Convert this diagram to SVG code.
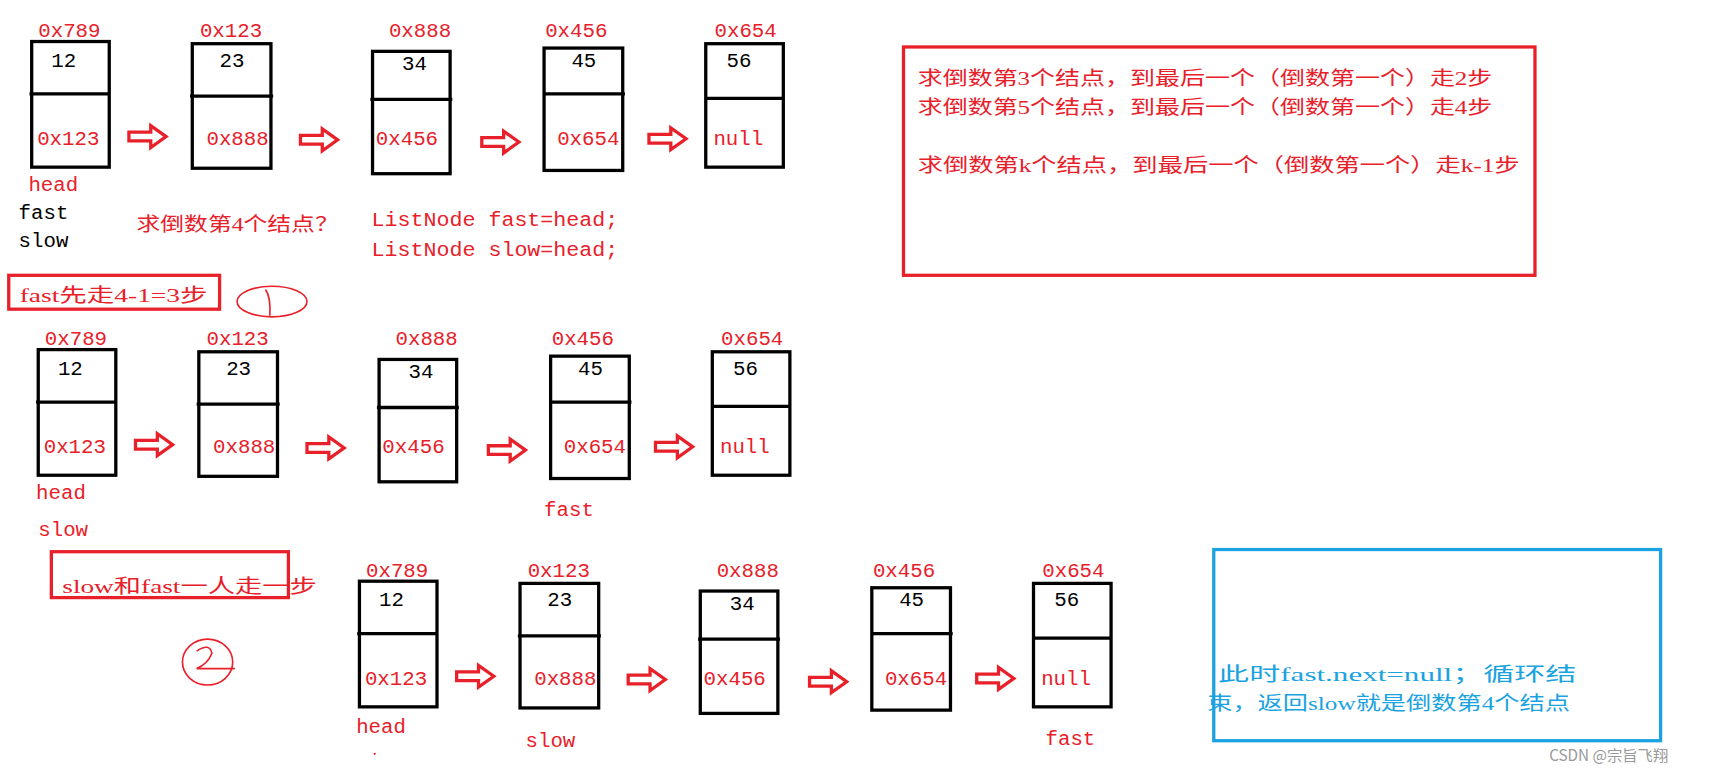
<svg xmlns="http://www.w3.org/2000/svg" width="1713" height="774" viewBox="0 0 1713 774">
<style>
.box{fill:none;stroke:#000;stroke-width:3}
.t{font-family:"Liberation Mono","Noto Sans CJK SC",monospace;font-size:19px}
.r{fill:#e8202a}.k{fill:#000}.b{fill:#1aa3e0}
.cj{font-family:"Liberation Serif","Noto Sans CJK SC",serif;font-size:18px}
.arr{fill:none;stroke:#e8202a;stroke-width:3}
.frame{fill:none;stroke:#e8202a;stroke-width:3}
</style>
<defs>
<path id="ar" class="arr" d="M0,-4 L20,-4 L20,-10 L34,0 L20,10 L20,4 L0,4 Z"/>
<g id="n1"><rect class="box" x="29" y="38" width="71" height="115"/><line class="box" x1="27" y1="86" x2="100" y2="86"/><text class="t r" x="35" y="34">0x789</text><text class="t k" x="47" y="61">12</text><text class="t r" x="34" y="133">0x123</text></g>
<g id="n2"><rect class="box" x="176" y="40" width="72" height="114"/><line class="box" x1="174" y1="88" x2="250" y2="88"/><text class="t r" x="183" y="34">0x123</text><text class="t k" x="201" y="61">23</text><text class="t r" x="189" y="133">0x888</text></g>
<g id="n3"><rect class="box" x="341" y="47" width="71" height="112"/><line class="box" x1="339" y1="91" x2="414" y2="91"/><text class="t r" x="356" y="34">0x888</text><text class="t k" x="368" y="64">34</text><text class="t r" x="344" y="133">0x456</text></g>
<g id="n4"><rect class="box" x="498" y="44" width="72" height="112"/><line class="box" x1="498" y1="86" x2="572" y2="86"/><text class="t r" x="499" y="34">0x456</text><text class="t k" x="523" y="61">45</text><text class="t r" x="510" y="133">0x654</text></g>
<g id="n5"><rect class="box" x="646" y="40" width="71" height="113"/><line class="box" x1="646" y1="90" x2="717" y2="90"/><text class="t r" x="654" y="34">0x654</text><text class="t k" x="665" y="61">56</text><text class="t r" x="653" y="133">null</text></g>
<g id="arrows"><use href="#ar" x="118" y="125"/><use href="#ar" x="275" y="128"/><use href="#ar" x="441" y="130"/><use href="#ar" x="594" y="127"/></g>
</defs>
<rect width="1713" height="774" fill="#fff"/>
<g transform="scale(1.0925)">
<g id="row1">
<use id="r1n1" href="#n1"/><use id="r1n2" href="#n2"/><use id="r1n3" href="#n3"/><use id="r1n4" href="#n4"/><use id="r1n5" href="#n5"/>
</g>
<g id="row2" transform="translate(6,282)">
<use id="r2n1" href="#n1"/><use id="r2n2" href="#n2"/><use id="r2n3" href="#n3"/><use id="r2n4" href="#n4"/><use id="r2n5" href="#n5"/>
</g>
<g id="row3" transform="translate(300,494)">
<use id="r3n1" href="#n1"/><use id="r3n2" href="#n2"/><use id="r3n3" href="#n3"/><use id="r3n4" href="#n4"/><use id="r3n5" href="#n5"/>
</g>
<g id="connectors">
<use href="#arrows"/>
<use href="#arrows" transform="translate(6,282)"/>
<use href="#arrows" transform="translate(300,494)"/>
</g>
<g id="labels">
<text class="t r" x="26" y="175">head</text>
<text class="t k" x="17" y="200">fast</text>
<text class="t k" x="17" y="226">slow</text>
<text class="cj r" x="125" y="211" textLength="185" lengthAdjust="spacingAndGlyphs">求倒数第4个结点？</text>
<text class="t r" x="340" y="207" textLength="226" lengthAdjust="spacingAndGlyphs">ListNode fast=head;</text>
<text class="t r" x="340" y="234" textLength="226" lengthAdjust="spacingAndGlyphs">ListNode slow=head;</text>
<text class="t r" x="33" y="457">head</text>
<text class="t r" x="35" y="491">slow</text>
<text class="t r" x="498" y="472">fast</text>
<text class="t r" x="326" y="671">head</text>
<circle cx="343" cy="690" r="1" fill="#e8202a"/>
<text class="t r" x="481" y="684">slow</text>
<text class="t r" x="957" y="682">fast</text>
</g>
<g id="notebox">
<rect class="frame" x="827" y="43" width="578" height="209"/>
<text class="cj r" x="840" y="78" textLength="526" lengthAdjust="spacingAndGlyphs">求倒数第3个结点，到最后一个（倒数第一个）走2步</text>
<text class="cj r" x="840" y="104" textLength="526" lengthAdjust="spacingAndGlyphs">求倒数第5个结点，到最后一个（倒数第一个）走4步</text>
<text class="cj r" x="840" y="157" textLength="551" lengthAdjust="spacingAndGlyphs">求倒数第k个结点，到最后一个（倒数第一个）走k-1步</text>
</g>
<g id="step1">
<rect class="frame" x="8" y="252" width="193" height="31"/>
<text class="cj r" x="18" y="276" textLength="172" lengthAdjust="spacingAndGlyphs">fast先走4-1=3步</text>
<ellipse cx="249" cy="276" rx="32" ry="14" fill="none" stroke="#e8202a" stroke-width="1.5"/>
<path d="M243,265 Q248,272 247,289" fill="none" stroke="#e8202a" stroke-width="1.5"/>
</g>
<g id="step2">
<rect class="frame" x="47" y="505" width="217" height="42"/>
<text class="cj r" x="57" y="543" textLength="233" lengthAdjust="spacingAndGlyphs">slow和fast一人走一步</text>
<ellipse cx="190" cy="606" rx="23" ry="21" fill="none" stroke="#e8202a" stroke-width="1.5"/>
<path d="M180,596 Q192,588 194,598 Q190,608 180,612 L215,612" fill="none" stroke="#e8202a" stroke-width="1.5"/>
</g>
<g id="resultbox">
<rect x="1111" y="503" width="409" height="175" fill="none" stroke="#1aa3e0" stroke-width="3"/>
<text class="cj b" x="1115" y="623" textLength="328" lengthAdjust="spacingAndGlyphs">此时fast.next=null；循环结</text>
<text class="cj b" x="1105" y="650" textLength="332" lengthAdjust="spacingAndGlyphs">束，返回slow就是倒数第4个结点</text>
</g>
<text x="1418" y="697" font-family="Noto Sans CJK SC,sans-serif" font-size="14" fill="#999">CSDN @宗旨飞翔</text>
</g>
</svg>
